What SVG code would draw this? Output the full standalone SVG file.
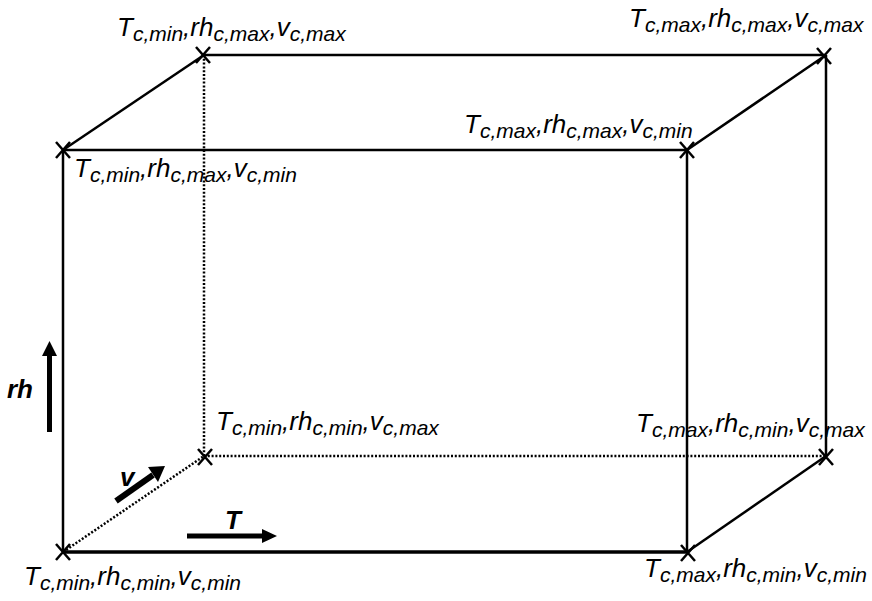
<svg xmlns="http://www.w3.org/2000/svg" width="872" height="601" viewBox="0 0 872 601">
<style>
text{font-family:"Liberation Sans",Arial,sans-serif;font-style:italic;fill:#000}
.lbl{font-size:26px}
.s{font-size:21px}
.ax{font-size:26px;font-weight:bold}
.solid{stroke:#000;stroke-width:2.5;fill:none}
.thick{stroke:#000;stroke-width:3.5;fill:none}
.dot{stroke:#000;stroke-width:2.5;stroke-dasharray:2 1.8;fill:none}
.x{stroke:#000;stroke-width:2.5;fill:none}
</style>
<defs>
<path id="cross" d="M-7,-8 L7,8 M-7,8 L7,-8" class="x"/>
</defs>
<g id="connectors">
<line class="dot" x1="204" y1="55" x2="204" y2="456"/>
<line class="dot" x1="204" y1="456" x2="826" y2="456"/>
<line class="dot" x1="63" y1="552" x2="204" y2="456"/>
<line class="solid" x1="63" y1="150" x2="687" y2="150"/>
<line class="solid" x1="63" y1="150" x2="63" y2="552"/>
<line class="solid" x1="687" y1="150" x2="687" y2="552"/>
<line class="thick" x1="63" y1="552" x2="687" y2="552"/>
<line class="solid" x1="204" y1="55" x2="826" y2="55"/>
<line class="solid" x1="826" y1="55" x2="826" y2="456"/>
<line class="solid" x1="63" y1="150" x2="204" y2="55"/>
<line class="solid" x1="687" y1="150" x2="826" y2="55"/>
<line class="solid" x1="687" y1="552" x2="826" y2="456"/>
</g>
<g id="n-back-top-left">
<use href="#cross" x="203" y="55"/>
<text class="lbl" x="117" y="36">T<tspan class="s" dy="5">c,min</tspan><tspan dy="-5">,rh</tspan><tspan class="s" dy="5">c,max</tspan><tspan dy="-5">,v</tspan><tspan class="s" dy="5">c,max</tspan></text>
</g>
<g id="n-back-top-right">
<use href="#cross" x="824" y="56"/>
<text class="lbl" x="629" y="27">T<tspan class="s" dy="5">c,max</tspan><tspan dy="-5">,rh</tspan><tspan class="s" dy="5">c,max</tspan><tspan dy="-5">,v</tspan><tspan class="s" dy="5">c,max</tspan></text>
</g>
<g id="n-front-top-left">
<use href="#cross" x="63" y="150"/>
<text class="lbl" x="74" y="177">T<tspan class="s" dy="5">c,min</tspan><tspan dy="-5">,rh</tspan><tspan class="s" dy="5">c,max</tspan><tspan dy="-5">,v</tspan><tspan class="s" dy="5">c,min</tspan></text>
</g>
<g id="n-front-top-right">
<use href="#cross" x="687" y="150"/>
<text class="lbl" x="464" y="133">T<tspan class="s" dy="5">c,max</tspan><tspan dy="-5">,rh</tspan><tspan class="s" dy="5">c,max</tspan><tspan dy="-5">,v</tspan><tspan class="s" dy="5">c,min</tspan></text>
</g>
<g id="n-back-bottom-left">
<use href="#cross" x="205" y="457"/>
<text class="lbl" x="216" y="430">T<tspan class="s" dy="5">c,min</tspan><tspan dy="-5">,rh</tspan><tspan class="s" dy="5">c,min</tspan><tspan dy="-5">,v</tspan><tspan class="s" dy="5">c,max</tspan></text>
</g>
<g id="n-back-bottom-right">
<use href="#cross" x="826" y="457"/>
<text class="lbl" x="636" y="432">T<tspan class="s" dy="5">c,max</tspan><tspan dy="-5">,rh</tspan><tspan class="s" dy="5">c,min</tspan><tspan dy="-5">,v</tspan><tspan class="s" dy="5">c,max</tspan></text>
</g>
<g id="n-front-bottom-left">
<use href="#cross" x="63" y="552"/>
<text class="lbl" x="24" y="585">T<tspan class="s" dy="5">c,min</tspan><tspan dy="-5">,rh</tspan><tspan class="s" dy="5">c,min</tspan><tspan dy="-5">,v</tspan><tspan class="s" dy="5">c,min</tspan></text>
</g>
<g id="n-front-bottom-right">
<use href="#cross" x="688" y="553"/>
<text class="lbl" x="644" y="577">T<tspan class="s" dy="5">c,max</tspan><tspan dy="-5">,rh</tspan><tspan class="s" dy="5">c,min</tspan><tspan dy="-5">,v</tspan><tspan class="s" dy="5">c,min</tspan></text>
</g>
<g id="axis-rh">
<line x1="49.5" y1="432" x2="49.5" y2="354" stroke="#000" stroke-width="5"/>
<polygon points="42,356 57,356 49.5,341" fill="#000"/>
<text class="ax" x="7" y="398">rh</text>
</g>
<g id="axis-v">
<line x1="116" y1="501" x2="153" y2="475" stroke="#000" stroke-width="6"/>
<polygon points="148,467 158,482 165,466" fill="#000"/>
<text class="ax" x="120" y="486">v</text>
</g>
<g id="axis-T">
<line x1="187" y1="536" x2="264" y2="536" stroke="#000" stroke-width="5"/>
<polygon points="262,529 262,543 277,536" fill="#000"/>
<text class="ax" x="225" y="529">T</text>
</g>
</svg>
